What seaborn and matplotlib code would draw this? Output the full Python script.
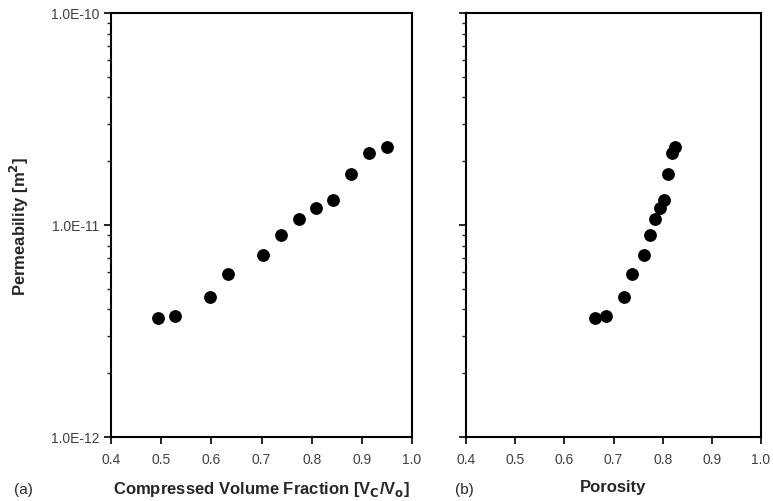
import numpy as np
import pandas as pd
import seaborn as sns
import matplotlib.pyplot as plt
from matplotlib.ticker import FixedLocator, LogLocator, NullFormatter

# data
volume_fraction = [0.493, 0.527, 0.597, 0.633, 0.703, 0.738, 0.774, 0.808, 0.843, 0.878, 0.914, 0.950]
porosity = [0.662, 0.685, 0.722, 0.738, 0.763, 0.775, 0.784, 0.795, 0.803, 0.810, 0.818, 0.825]
permeability = [3.63e-12, 3.73e-12, 4.56e-12, 5.87e-12, 7.24e-12, 8.97e-12,
                1.07e-11, 1.20e-11, 1.31e-11, 1.74e-11, 2.18e-11, 2.33e-11]
x_ticks = [0.4, 0.5, 0.6, 0.7, 0.8, 0.9, 1.0]
y_ticks = [1e-12, 1e-11, 1e-10]
y_tick_labels = ["1.0E-12", "1.0E-11", "1.0E-10"]

df = pd.DataFrame({"vf": volume_fraction, "por": porosity, "k": permeability})

sns.set_style("ticks")
plt.rcParams["font.family"] = ["Liberation Sans", "DejaVu Sans"]

fig = plt.figure(figsize=(7.73, 5.02), dpi=100)
W, H = 773, 502
ax1 = fig.add_axes([111 / W, 1 - 438 / H, 301 / W, 424 / H])
ax2 = fig.add_axes([466 / W, 1 - 438 / H, 295 / W, 424 / H])

for ax, col in [(ax1, "vf"), (ax2, "por")]:
    sns.scatterplot(data=df, x=col, y="k", ax=ax, color="black", s=85,
                    edgecolor="black", linewidth=0)
    ax.set_yscale("log")
    ax.set_xlim(0.4, 1.0)
    ax.set_ylim(1e-12, 1e-10)
    ax.xaxis.set_major_locator(FixedLocator(x_ticks))
    ax.set_xticklabels([f"{t:.1f}" for t in x_ticks])
    ax.yaxis.set_major_locator(FixedLocator(y_ticks))
    ax.yaxis.set_minor_locator(LogLocator(base=10, subs=np.arange(2, 10)))
    ax.yaxis.set_minor_formatter(NullFormatter())
    ax.tick_params(axis="both", which="major", direction="out", length=5,
                   width=1.2, labelsize=10, colors="black", labelcolor="#404040")
    ax.tick_params(axis="x", which="major", pad=6)
    ax.tick_params(axis="y", which="minor", direction="out", length=3, width=1.0)
    for sp in ax.spines.values():
        sp.set_linewidth(1.5)
        sp.set_color("black")
    ax.set_xlabel("")
    ax.set_ylabel("")

ax1.set_yticklabels(y_tick_labels)
ax2.set_yticklabels([])

ax1.set_ylabel("Permeability [m$^\\mathbf{2}$]", fontsize=12, fontweight="bold", labelpad=14)
ax1.set_xlabel("Compressed Volume Fraction [V$_\\mathbf{C}$/V$_\\mathbf{o}$]",
               fontsize=12, fontweight="bold", labelpad=9)
ax2.set_xlabel("Porosity", fontsize=12, fontweight="bold", labelpad=9)

fig.text(14 / W, 1 - 494 / H, "(a)", fontsize=11, va="baseline")
fig.text(455 / W, 1 - 494 / H, "(b)", fontsize=11, va="baseline")

fig.savefig("out.png", dpi=100)
